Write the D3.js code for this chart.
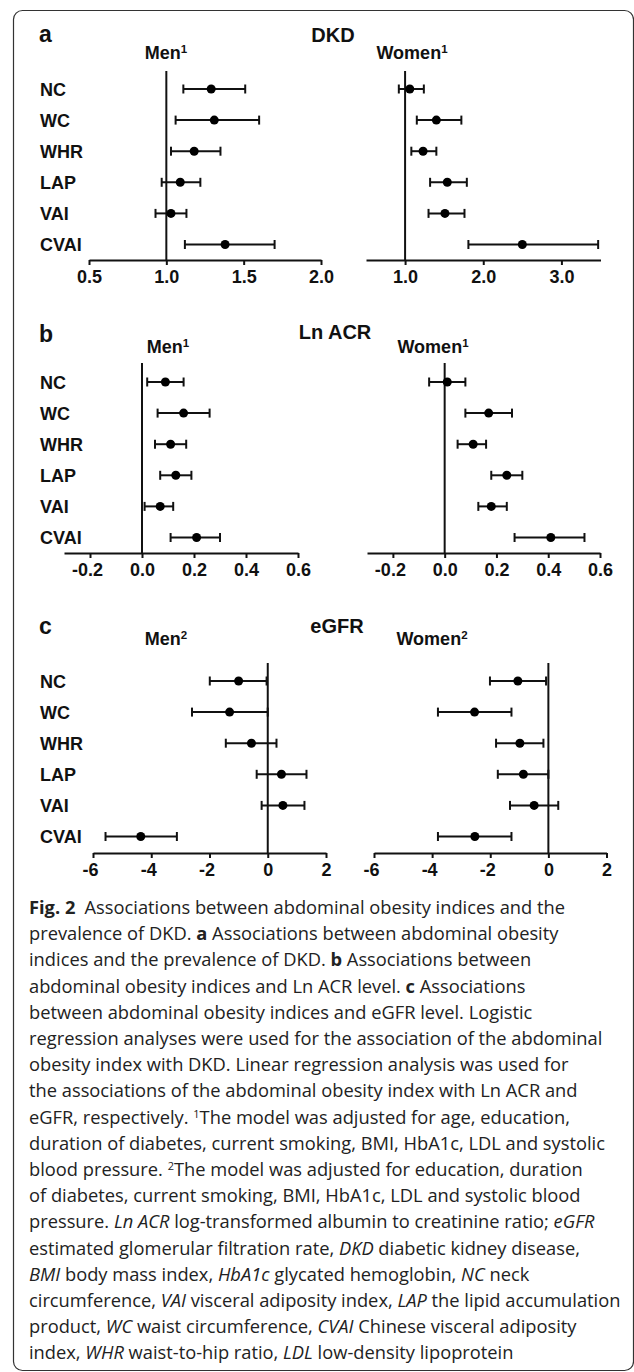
<!DOCTYPE html>
<html>
<head>
<meta charset="utf-8">
<script src="https://cdn.jsdelivr.net/npm/d3@7"></script>
<style>
  html, body { margin: 0; padding: 0; background: #fff; }
  svg { display: block; }
  .chart text { font-family: "Liberation Sans", Arial, sans-serif; font-weight: bold; fill: #111; }
  .caption text { font-family: "Open Sans", "Noto Sans", sans-serif; fill: #222; }
</style>
</head>
<body>
<svg id="fig"></svg>
<script>
// abdominal obesity indices, top to bottom
const categories = ["NC", "WC", "WHR", "LAP", "VAI", "CVAI"];

// a: DKD odds ratios
const dkdMenEst = [1.29, 1.31, 1.18, 1.09, 1.03, 1.38];
const dkdMenLow = [1.11, 1.06, 1.03, 0.97, 0.93, 1.12];
const dkdMenHigh = [1.51, 1.60, 1.35, 1.22, 1.13, 1.70];
const dkdWomenEst = [1.06, 1.40, 1.23, 1.54, 1.51, 2.50];
const dkdWomenLow = [0.92, 1.15, 1.08, 1.32, 1.30, 1.81];
const dkdWomenHigh = [1.24, 1.72, 1.40, 1.79, 1.76, 3.47];

// b: Ln ACR betas
const acrMenEst = [0.09, 0.16, 0.11, 0.13, 0.07, 0.21];
const acrMenLow = [0.02, 0.06, 0.05, 0.07, 0.01, 0.11];
const acrMenHigh = [0.16, 0.26, 0.17, 0.19, 0.12, 0.30];
const acrWomenEst = [0.01, 0.17, 0.11, 0.24, 0.18, 0.41];
const acrWomenLow = [-0.06, 0.08, 0.05, 0.18, 0.13, 0.27];
const acrWomenHigh = [0.08, 0.26, 0.16, 0.30, 0.24, 0.54];

// c: eGFR betas
const egfrMenEst = [-1.00, -1.31, -0.56, 0.47, 0.52, -4.36];
const egfrMenLow = [-1.99, -2.60, -1.44, -0.38, -0.21, -5.57];
const egfrMenHigh = [-0.04, 0.00, 0.30, 1.33, 1.26, -3.12];
const egfrWomenEst = [-1.05, -2.54, -0.98, -0.86, -0.49, -2.53];
const egfrWomenLow = [-2.01, -3.80, -1.80, -1.74, -1.32, -3.80];
const egfrWomenHigh = [-0.08, -1.27, -0.17, 0.00, 0.34, -1.27];

// axes
const dkdMenTicks = [0.5, 1.0, 1.5, 2.0];
const dkdWomenTicks = [1.0, 2.0, 3.0];
const acrTicks = [-0.2, 0.0, 0.2, 0.4, 0.6];
const egfrTicks = [-6, -4, -2, 0, 2];

const W = 634, H = 1372;
const svg = d3.select('#fig').attr('width', W).attr('height', H);

svg.append('rect')
    .attr('x', 13.5).attr('y', 10.5)
    .attr('width', 620).attr('height', 1360)
    .attr('rx', 9)
    .attr('fill', 'none')
    .attr('stroke', '#333')
    .attr('stroke-width', 1.2);

const chart = svg.append('g').attr('class', 'chart');

function rows(est, lo, hi) {
    return categories.map((c, i) => ({ cat: c, est: est[i], lo: lo[i], hi: hi[i] }));
}

// plain hyphen for negatives, like the printed figure
const fmt1 = d => d.toFixed(1);
const fmt0 = d => String(d);

const panels = [
    {
        letter: 'a', title: 'DKD', titleX: 333, letterY: 42, titleY: 42, subY: 59,
        lineTop: 71, row0: 89, axisY: 260, sup: '1',
        men: { data: rows(dkdMenEst, dkdMenLow, dkdMenHigh), domain: [0.5, 2.0], range: [89, 321], ticks: dkdMenTicks, ref: 1, fmt: fmt1, subX: 166 },
        women: { data: rows(dkdWomenEst, dkdWomenLow, dkdWomenHigh), domain: [0.5, 3.5], range: [366, 600.5], ticks: dkdWomenTicks, ref: 1, fmt: fmt1, subX: 412 }
    },
    {
        letter: 'b', title: 'Ln ACR', titleX: 335, letterY: 342, titleY: 339, subY: 353,
        lineTop: 363, row0: 382, axisY: 553, sup: '1',
        men: { data: rows(acrMenEst, acrMenLow, acrMenHigh), domain: [-0.3, 0.6], range: [64, 298], ticks: acrTicks, ref: 0, fmt: fmt1, subX: 168 },
        women: { data: rows(acrWomenEst, acrWomenLow, acrWomenHigh), domain: [-0.3, 0.6], range: [367, 600], ticks: acrTicks, ref: 0, fmt: fmt1, subX: 433 }
    },
    {
        letter: 'c', title: 'eGFR', titleX: 337, letterY: 634, titleY: 633, subY: 645,
        lineTop: 663, row0: 681, axisY: 853, sup: '2',
        men: { data: rows(egfrMenEst, egfrMenLow, egfrMenHigh), domain: [-6, 2], range: [93, 326], ticks: egfrTicks, ref: 0, fmt: fmt0, subX: 166 },
        women: { data: rows(egfrWomenEst, egfrWomenLow, egfrWomenHigh), domain: [-6, 2], range: [374, 606.5], ticks: egfrTicks, ref: 0, fmt: fmt0, subX: 432 }
    }
];

panels.forEach(p => {
    const g = chart.append('g');
    const y = d3.scalePoint().domain(categories).range([p.row0, p.row0 + 5 * 31.1]);

    g.append('text').attr('x', 39).attr('y', p.letterY)
        .attr('font-size', 23).text(p.letter);
    g.append('text').attr('x', p.titleX).attr('y', p.titleY)
        .attr('text-anchor', 'middle').attr('font-size', 20).text(p.title);

    g.selectAll('.cat').data(categories).join('text')
        .attr('class', 'cat')
        .attr('x', 40).attr('y', d => y(d) + 6.5)
        .attr('font-size', 18).text(d => d);

    [[p.men, 'Men'], [p.women, 'Women']].forEach(([s, sub]) => {
        const x = d3.scaleLinear().domain(s.domain).range(s.range);

        const st = g.append('text').attr('x', s.subX).attr('y', p.subY)
            .attr('text-anchor', 'middle').attr('font-size', 18);
        st.append('tspan').text(sub);
        st.append('tspan').attr('font-size', 11.5).attr('dy', -6).text(p.sup);

        g.append('g')
            .attr('transform', `translate(0,${p.axisY})`)
            .call(d3.axisBottom(x).tickValues(s.ticks).tickFormat(s.fmt)
                .tickSizeInner(5).tickSizeOuter(0).tickPadding(5))
            .call(a => a.selectAll('path, line').attr('stroke', '#111').attr('stroke-width', 2))
            .call(a => a.selectAll('text')
                .attr('font-size', 18).attr('font-family', '"Liberation Sans", Arial, sans-serif')
                .attr('font-weight', 'bold').attr('fill', '#111')
                // digits sit on the tick, the minus hangs to the left
                .attr('dx', d => d < 0 ? -3 : 0));

        g.append('line')
            .attr('x1', x(s.ref)).attr('x2', x(s.ref))
            .attr('y1', p.lineTop).attr('y2', p.axisY)
            .attr('stroke', '#111').attr('stroke-width', 2);

        const bars = g.append('g').selectAll('g').data(s.data).join('g');
        bars.append('line')
            .attr('x1', d => x(d.lo)).attr('x2', d => x(d.hi))
            .attr('y1', d => y(d.cat)).attr('y2', d => y(d.cat))
            .attr('stroke', '#111').attr('stroke-width', 2);
        bars.selectAll('.cap').data(d => [[d.lo, d.cat], [d.hi, d.cat]]).join('line')
            .attr('class', 'cap')
            .attr('x1', d => x(d[0])).attr('x2', d => x(d[0]))
            .attr('y1', d => y(d[1]) - 4.5).attr('y2', d => y(d[1]) + 4.5)
            .attr('stroke', '#111').attr('stroke-width', 2);
        bars.append('circle')
            .attr('cx', d => x(d.est)).attr('cy', d => y(d.cat))
            .attr('r', 4.5).attr('fill', '#000');
    });
});

// caption, one entry per printed line: [text, style]
const captionLines = [
    [['Fig. 2', 'b'], ['\u2002Associations between abdominal obesity indices and the', '']],
    [['prevalence of DKD. ', ''], ['a', 'b'], [' Associations between abdominal obesity', '']],
    [['indices and the prevalence of DKD. ', ''], ['b', 'b'], [' Associations between', '']],
    [['abdominal obesity indices and Ln ACR level. ', ''], ['c', 'b'], [' Associations', '']],
    [['between abdominal obesity indices and eGFR level. Logistic', '']],
    [['regression analyses were used for the association of the abdominal', '']],
    [['obesity index with DKD. Linear regression analysis was used for', '']],
    [['the associations of the abdominal obesity index with Ln ACR and', '']],
    [['eGFR, respectively. ', ''], ['1', 's'], ['The model was adjusted for age, education,', '']],
    [['duration of diabetes, current smoking, BMI, HbA1c, LDL and systolic', '']],
    [['blood pressure. ', ''], ['2', 's'], ['The model was adjusted for education, duration', '']],
    [['of diabetes, current smoking, BMI, HbA1c, LDL and systolic blood', '']],
    [['pressure. ', ''], ['Ln ACR', 'i'], [' log-transformed albumin to creatinine ratio; ', ''], ['eGFR', 'i']],
    [['estimated glomerular filtration rate, ', ''], ['DKD', 'i'], [' diabetic kidney disease,', '']],
    [['BMI', 'i'], [' body mass index, ', ''], ['HbA1c', 'i'], [' glycated hemoglobin, ', ''], ['NC', 'i'], [' neck', '']],
    [['circumference, ', ''], ['VAI', 'i'], [' visceral adiposity index, ', ''], ['LAP', 'i'], [' the lipid accumulation', '']],
    [['product, ', ''], ['WC', 'i'], [' waist circumference, ', ''], ['CVAI', 'i'], [' Chinese visceral adiposity', '']],
    [['index, ', ''], ['WHR', 'i'], [' waist-to-hip ratio, ', ''], ['LDL', 'i'], [' low-density lipoprotein', '']]
];

const cap = svg.append('g').attr('class', 'caption');
const capTexts = cap.selectAll('text').data(captionLines).join('text')
    .attr('x', 0)
    .attr('y', (d, i) => 914 + i * 26.2)
    .attr('font-size', 17.5);

capTexts.each(function (segs) {
    const t = d3.select(this);
    segs.forEach(([txt, st]) => {
        const ts = t.append('tspan').text(txt);
        if (st === 'b') ts.attr('font-weight', 'bold');
        if (st === 'i') ts.attr('font-style', 'italic');
        if (st === 's') ts.attr('font-size', 10.5).attr('baseline-shift', '55%');
    });
});

// squeeze the humanist caption face to the printed line measure
const refWidth = capTexts.filter((d, i) => i === 15).node().getComputedTextLength();
const sx = 592 / refWidth;
cap.attr('transform', `translate(29,0) scale(${sx},1)`);
</script>
</body>
</html>
